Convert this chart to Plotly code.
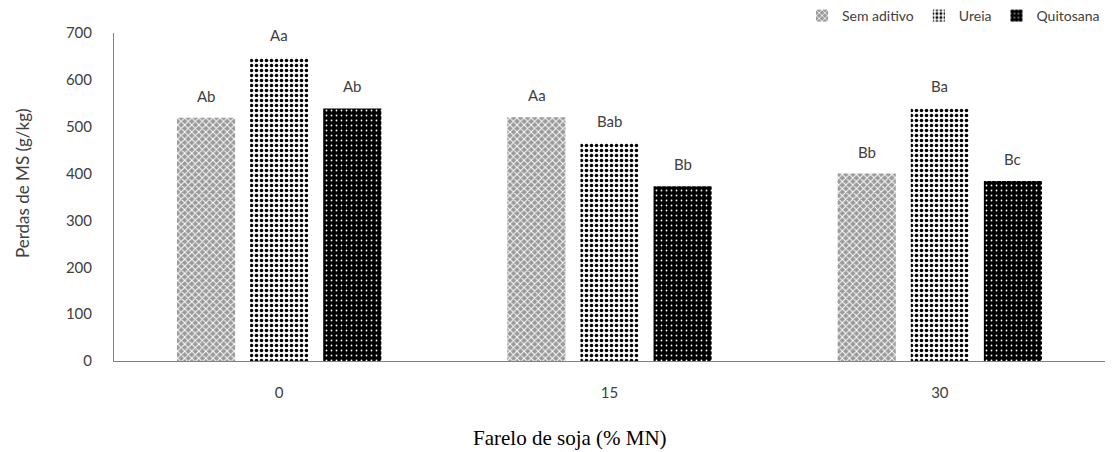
import plotly.graph_objects as go

categories = ["0", "15", "30"]
series_names = ["Sem aditivo", "Ureia", "Quitosana"]
sem_aditivo = [519, 520, 400]
ureia = [648, 466, 540]
quitosana = [539, 373, 384]
labels_sem = ["Ab", "Aa", "Bb"]
labels_ureia = ["Aa", "Bab", "Ba"]
labels_quit = ["Ab", "Bb", "Bc"]
y_ticks = [0, 100, 200, 300, 400, 500, 600, 700]

styles = [
    dict(bgcolor="#9a9a9a", fgcolor="#ffffff", shape="x", size=5, solidity=0.35),
    dict(bgcolor="#ffffff", fgcolor="#000000", shape=".", size=5, solidity=0.4),
    dict(bgcolor="#000000", fgcolor="#ffffff", shape=".", size=5, solidity=0.1),
]
shifts = [-73, 0, 73]

fig = go.Figure()
annotations = []
for name, vals, labs, st, sh in zip(series_names, [sem_aditivo, ureia, quitosana],
                                    [labels_sem, labels_ureia, labels_quit], styles, shifts):
    fig.add_trace(go.Bar(
        x=categories, y=vals, name=name,
        marker=dict(color=st["bgcolor"], line=dict(width=0),
                    pattern=dict(shape=st["shape"], fgcolor=st["fgcolor"],
                                 bgcolor=st["bgcolor"], size=st["size"],
                                 solidity=st["solidity"], fillmode="replace")),
    ))
    for i, (v, lab) in enumerate(zip(vals, labs)):
        annotations.append(dict(
            x=i, y=v, xref="x", yref="y", text=lab, showarrow=False,
            xanchor="center", yanchor="bottom", xshift=sh, yshift=11,
            font=dict(family="Lato, Open Sans, sans-serif", size=15, color="#404040")))

annotations += [
    dict(text="Farelo de soja (% MN)", xref="paper", yref="paper",
         x=(570 - 114) / 991, y=-(438 - 361) / 328, xanchor="center", yanchor="middle",
         showarrow=False, font=dict(family="Liberation Serif, Times New Roman, serif",
                                    size=21, color="#000000")),
    dict(text="Perdas de MS (g/kg)", xref="paper", yref="paper",
         x=-(114 - 22) / 991, y=(361 - 183) / 328, xanchor="center", yanchor="middle",
         textangle=-90, showarrow=False,
         font=dict(family="Lato, Open Sans, sans-serif", size=17, color="#404040")),
]

fig.update_layout(
    width=1113, height=452,
    margin=dict(l=114, r=8, t=33, b=91, autoexpand=False),
    paper_bgcolor="white", plot_bgcolor="white",
    barmode="group", bargap=0.336, bargroupgap=0.205,
    font=dict(family="Lato, Open Sans, sans-serif", size=14, color="#404040"),
    showlegend=True,
    legend=dict(orientation="h", x=1.0, xanchor="right", y=1 + 33 / 328, yanchor="top",
                font=dict(size=14, color="#404040"), itemwidth=30,
                traceorder="normal", bgcolor="rgba(0,0,0,0)"),
    xaxis=dict(type="category", range=[-0.5, 2.5], showline=True, linecolor="#808080",
               linewidth=1, showgrid=False, ticks="", ticklabelstandoff=18,
               tickfont=dict(size=15)),
    yaxis=dict(range=[0, 700], tickvals=y_ticks, showline=True, linecolor="#808080",
               linewidth=1, showgrid=False, ticks="", ticklabelstandoff=18,
               tickfont=dict(size=15), zeroline=False),
    annotations=annotations,
)

fig.write_html("out.html")
